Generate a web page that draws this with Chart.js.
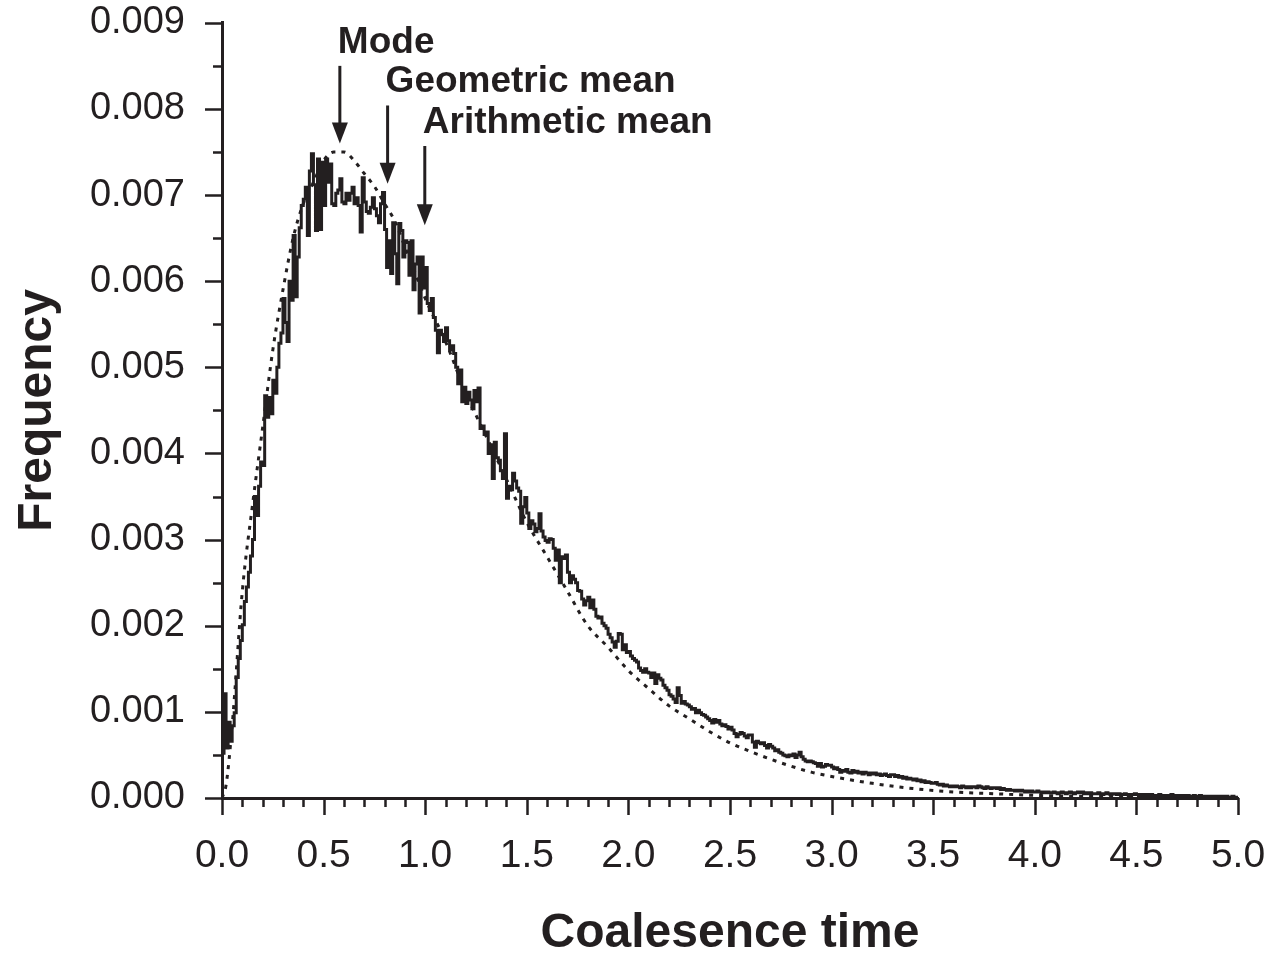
<!DOCTYPE html>
<html>
<head>
<meta charset="utf-8">
<script src="https://cdn.jsdelivr.net/npm/chart.js@4.4.1/dist/chart.umd.min.js"></script>
<style>
  html, body { margin: 0; padding: 0; background: #fff; }
  #wrap { width: 1275px; height: 958px; position: relative; }
</style>
</head>
<body>
<div id="wrap"><canvas id="chart1"></canvas></div>
<script>
// Data

// simulated histogram, bins of width 0.01 starting at 0.00
const binWidth = 0.01
const freq = [
  0.00052,0.00121,0.00058,0.00088,0.00066,0.00084,0.00099,0.00140,0.00162,0.00183,
  0.00201,0.00228,0.00245,0.00262,0.00281,0.00300,0.00350,0.00328,0.00362,0.00390,
  0.00386,0.00467,0.00442,0.00465,0.00446,0.00485,0.00470,0.00500,0.00528,0.00540,
  0.00580,0.00552,0.00530,0.00600,0.00578,0.00653,0.00582,0.00628,0.00662,0.00688,
  0.00695,0.00709,0.00653,0.00728,0.00748,0.00712,0.00659,0.00742,0.00660,0.00738,
  0.00688,0.00742,0.00715,0.00736,0.00690,0.00688,0.00702,0.00706,0.00719,0.00692,
  0.00690,0.00702,0.00694,0.00702,0.00709,0.00690,0.00697,0.00688,0.00657,0.00720,
  0.00692,0.00681,0.00679,0.00686,0.00697,0.00684,0.00676,0.00668,0.00690,0.00703,
  0.00660,0.00616,0.00647,0.00609,0.00668,0.00632,0.00597,0.00667,0.00659,0.00628,
  0.00647,0.00645,0.00607,0.00647,0.00590,0.00620,0.00628,0.00563,0.00628,0.00592,
  0.00616,0.00574,0.00566,0.00580,0.00558,0.00543,0.00517,0.00543,0.00538,0.00530,
  0.00546,0.00531,0.00520,0.00525,0.00516,0.00500,0.00481,0.00497,0.00460,0.00477,
  0.00458,0.00471,0.00462,0.00452,0.00473,0.00460,0.00476,0.00429,0.00432,0.00422,
  0.00425,0.00400,0.00410,0.00371,0.00413,0.00395,0.00392,0.00380,0.00371,0.00423,
  0.00348,0.00362,0.00358,0.00377,0.00368,0.00360,0.00356,0.00319,0.00338,0.00349,
  0.00331,0.00313,0.00322,0.00318,0.00309,0.00313,0.00330,0.00310,0.00303,0.00299,
  0.00297,0.00301,0.00300,0.00290,0.00276,0.00288,0.00250,0.00280,0.00278,0.00282,
  0.00262,0.00250,0.00258,0.00254,0.00250,0.00241,0.00240,0.00231,0.00224,0.00229,
  0.00233,0.00221,0.00230,0.00219,0.00211,0.00209,0.00210,0.00203,0.00200,0.00197,
  0.00190,0.00186,0.00181,0.00175,0.00182,0.00191,0.00190,0.00172,0.00178,0.00169,
  0.00170,0.00165,0.00162,0.00160,0.00158,0.00151,0.00148,0.00146,0.00150,0.00146,
  0.00145,0.00140,0.00145,0.00133,0.00143,0.00139,0.00137,0.00131,0.00128,0.00125,
  0.00120,0.00118,0.00115,0.00111,0.00128,0.00119,0.00110,0.00112,0.00109,0.00108,
  0.00106,0.00103,0.00104,0.00099,0.00102,0.00099,0.00097,0.00096,0.00094,0.00092,
  0.00090,0.00087,0.00091,0.00088,0.00090,0.00086,0.00084,0.00085,0.00083,0.00080,
  0.00082,0.00079,0.00075,0.00071,0.00074,0.00076,0.00075,0.00072,0.00070,0.00073,
  0.00073,0.00065,0.00059,0.00066,0.00064,0.00063,0.00064,0.00061,0.00058,0.00062,
  0.00060,0.00058,0.00055,0.00056,0.00053,0.00052,0.00050,0.00049,0.00048,0.00050,
  0.00049,0.00051,0.00047,0.00050,0.00053,0.00048,0.00045,0.00043,0.00042,0.00043,
  0.00042,0.00041,0.00040,0.00037,0.00040,0.00036,0.00037,0.00039,0.00038,0.00038,
  0.00036,0.00034,0.00035,0.00033,0.00030,0.00032,0.00031,0.00033,0.00030,0.00029,
  0.00032,0.00030,0.00031,0.00029,0.00030,0.00028,0.00030,0.00029,0.00027,0.00029,
  0.00028,0.00029,0.00027,0.00028,0.00026,0.00027,0.00028,0.00026,0.00025,0.00027,
  0.00027,0.00025,0.00026,0.00024,0.00025,0.00023,0.00024,0.00022,0.00023,0.00022,
  0.00021,0.00022,0.00020,0.00021,0.00019,0.00020,0.00018,0.00019,0.00018,0.00017,
  0.00017,0.00018,0.00016,0.00015,0.00016,0.00014,0.00015,0.00014,0.00013,0.00014,
  0.00013,0.00014,0.00013,0.00012,0.00014,0.00013,0.00012,0.00013,0.00012,0.00013,
  0.00013,0.00012,0.00014,0.00013,0.00012,0.00011,0.00013,0.00012,0.00011,0.00012,
  0.00012,0.00011,0.00012,0.00010,0.00011,0.00010,0.00009,0.00010,0.00009,0.00009,
  0.00008,0.00009,0.00008,0.00009,0.00008,0.00007,0.00008,0.00007,0.00008,0.00007,
  0.00007,0.00008,0.00007,0.00006,0.00007,0.00006,0.00007,0.00006,0.00006,0.00007,
  0.00006,0.00005,0.00006,0.00007,0.00006,0.00005,0.00006,0.00007,0.00006,0.00005,
  0.00006,0.00007,0.00006,0.00007,0.00005,0.00006,0.00005,0.00006,0.00005,0.00005,
  0.00005,0.00006,0.00005,0.00004,0.00005,0.00006,0.00005,0.00004,0.00005,0.00005,
  0.00004,0.00005,0.00004,0.00004,0.00005,0.00004,0.00003,0.00004,0.00004,0.00005,
  0.00004,0.00003,0.00004,0.00004,0.00003,0.00004,0.00003,0.00004,0.00003,0.00003,
  0.00003,0.00004,0.00003,0.00003,0.00002,0.00003,0.00003,0.00004,0.00003,0.00002,
  0.00003,0.00002,0.00003,0.00003,0.00002,0.00003,0.00002,0.00002,0.00003,0.00002,
  0.00002,0.00003,0.00002,0.00002,0.00002,0.00001,0.00002,0.00002,0.00001,0.00002,
  0.00002,0.00001,0.00002,0.00001,0.00002,0.00001,0.00001,0.00002,0.00001,0.00001
]

// fitted (expected) distribution, dotted curve
const curveX = [0, 0.02, 0.05, 0.1, 0.15, 0.2, 0.25, 0.3, 0.35, 0.4, 0.45, 0.5, 0.55, 0.6, 0.65,
  0.7, 0.75, 0.8, 0.85, 0.9, 0.95, 1.0, 1.1, 1.2, 1.3, 1.4, 1.5, 1.6, 1.7, 1.8, 1.9, 2.0,
  2.1, 2.2, 2.3, 2.4, 2.5, 2.6, 2.7, 2.8, 2.9, 3.0, 3.2, 3.4, 3.6, 3.8, 4.0, 4.25, 4.5, 4.75, 5.0]
const curveY = [0.0000, 0.00015, 0.00084, 0.0024, 0.0034, 0.0043, 0.0052, 0.0059, 0.0065, 0.0069,
  0.00715, 0.0074, 0.0075, 0.0075, 0.0074, 0.00725, 0.0071, 0.0069, 0.0067, 0.0064, 0.0061, 0.0058,
  0.0053, 0.0047, 0.0042, 0.0037, 0.0032, 0.0028, 0.0024, 0.0020, 0.00175, 0.00148,
  0.00127, 0.00107, 0.00092, 0.00077, 0.00064, 0.00054, 0.00045, 0.00037, 0.0003, 0.00025,
  0.00017, 0.00011, 0.00007, 0.00005, 0.00003, 0.00002, 0.00001, 0.000006, 0.000004]

// arrows: label, x position, arrow top / tip (frequency units)
const markerLabels = ['Mode', 'Geometric mean', 'Arithmetic mean']
const markerX = [0.58, 0.815, 0.998]
const markerTop = [0.0085, 0.00804, 0.00757]
const markerTip = [0.0076, 0.00713, 0.00665]

const ink = '#231f20'
const fontFamily = '"Liberation Sans", Arial, Helvetica, sans-serif'

// histogram points, plus a closing point at the last bin edge
const histPoints = freq.map((v, i) => ({ x: +(i * binWidth).toFixed(2), y: v }))
histPoints.push({ x: +(freq.length * binWidth).toFixed(2), y: freq[freq.length - 1] })
const curvePoints = curveX.map((x, i) => ({ x: x, y: curveY[i] }))

// minor/major tick marks, arrows and labels
const axisMarks = {
  id: 'axisMarks',
  afterDraw(chart) {
    const { ctx, scales: { x, y } } = chart
    ctx.save()
    ctx.strokeStyle = ink
    ctx.fillStyle = ink
    ctx.lineWidth = 2.5
    ctx.beginPath()
    for (let k = 0; k <= 50; k++) {
      const px = Math.round(x.getPixelForValue(k / 10)) + 0.5
      const len = k % 5 === 0 ? 17 : 9
      ctx.moveTo(px, y.bottom)
      ctx.lineTo(px, y.bottom + len)
    }
    for (let k = 0; k <= 18; k++) {
      const py = Math.round(y.getPixelForValue(k * 0.0005)) + 0.5
      const len = k % 2 === 0 ? 17 : 9
      ctx.moveTo(x.left - len, py)
      ctx.lineTo(x.left, py)
    }
    ctx.stroke()

    ctx.font = 'bold 37px ' + fontFamily
    ctx.textAlign = 'left'
    ctx.textBaseline = 'alphabetic'
    markerLabels.forEach((label, i) => {
      const px = x.getPixelForValue(markerX[i])
      const top = y.getPixelForValue(markerTop[i])
      const tip = y.getPixelForValue(markerTip[i])
      ctx.lineWidth = 3
      ctx.beginPath()
      ctx.moveTo(px, top)
      ctx.lineTo(px, tip - 18)
      ctx.stroke()
      ctx.beginPath()
      ctx.moveTo(px - 8, tip - 21)
      ctx.lineTo(px + 8, tip - 21)
      ctx.lineTo(px, tip)
      ctx.closePath()
      ctx.fill()
      ctx.fillText(label, px - 2, top - 13)
    })
    ctx.restore()
  }
}

const config = {
  type: 'line',
  data: {
    datasets: [
      {
        data: histPoints,
        stepped: 'before',
        borderColor: ink,
        borderWidth: 3,
        pointRadius: 0,
        fill: false
      },
      {
        data: curvePoints,
        borderColor: ink,
        borderWidth: 3,
        borderDash: [4, 6],
        cubicInterpolationMode: 'monotone',
        pointRadius: 0,
        fill: false
      }
    ]
  },
  options: {
    responsive: true,
    maintainAspectRatio: false,
    animation: false,
    layout: { padding: { left: 0, right: 37, top: 22, bottom: 0 } },
    plugins: {
      legend: { display: false },
      tooltip: { enabled: false }
    },
    scales: {
      x: {
        type: 'linear',
        min: 0,
        max: 5,
        afterFit: s => { s.height = 160 },
        // invisible tick marks only push the labels down; real marks come from the plugin
        grid: { display: true, drawOnChartArea: false, drawTicks: true, tickLength: 35, tickColor: 'rgba(0,0,0,0)' },
        border: { display: true, color: ink, width: 3 },
        ticks: {
          stepSize: 0.5,
          padding: 0,
          color: ink,
          font: { family: fontFamily, size: 39 },
          maxRotation: 0,
          callback: v => v.toFixed(1)
        },
        title: {
          display: true,
          text: 'Coalesence time',
          color: ink,
          font: { family: fontFamily, size: 48, weight: 'bold', lineHeight: 1 },
          padding: 0
        }
      },
      y: {
        min: 0,
        max: 0.009,
        afterFit: s => { s.width = 222 },
        grid: { display: true, drawOnChartArea: false, drawTicks: true, tickLength: 37, tickColor: 'rgba(0,0,0,0)' },
        border: { display: true, color: ink, width: 3 },
        ticks: {
          stepSize: 0.001,
          padding: 0,
          color: ink,
          font: { family: fontFamily, size: 38 },
          callback: v => v.toFixed(3)
        },
        title: {
          display: true,
          text: 'Frequency',
          color: ink,
          font: { family: fontFamily, size: 48, weight: 'bold', lineHeight: 1 },
          padding: { top: 14 }
        }
      }
    }
  },
  plugins: [axisMarks]
}

const chart1 = new Chart(document.getElementById('chart1'), config)
</script>
</body>
</html>
